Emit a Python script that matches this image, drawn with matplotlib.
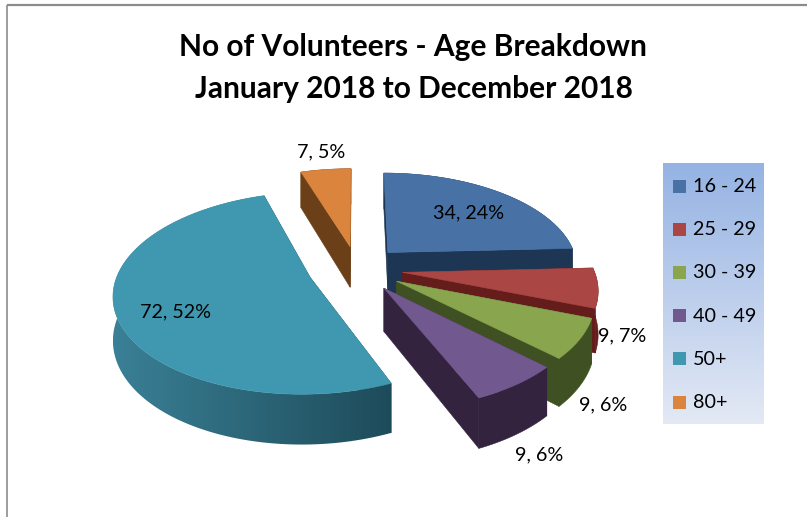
import numpy as np
import matplotlib
matplotlib.use("Agg")
import matplotlib.pyplot as plt
from matplotlib.colors import to_rgb
from matplotlib.patches import Polygon, Rectangle

# Volunteer counts by age band
categories = ["16 - 24", "25 - 29", "30 - 39", "40 - 49", "50+", "80+"]
counts = [34, 9, 9, 9, 72, 7]
percent_labels = [24, 7, 6, 6, 52, 5]
title_lines = ["No of Volunteers - Age Breakdown", "January 2018 to December 2018"]

top_colors = ["#4872a6", "#aa4644", "#89a54e", "#71588f", "#4098b0", "#db843d"]
wall_colors = ["#1d3654", "#651d1c", "#3f5122", "#33233f", "#1e4b5a", "#6b3f17"]
wall_light = {4: "#3a8096"}
explode = [0.24, 0.24, 0.24, 0.24, 0.258, 0.24]

# Projection of the pie's ground plane onto the page
CX, CY = 357.0, 268.7
RX, RY = 191.0, 96.0
PERSPECTIVE = 0.152
DEPTH = 42.0

plt.rcParams["font.family"] = ["Lato", "DejaVu Sans"]
fig = plt.figure(figsize=(8.07, 5.17), dpi=100)
ax = fig.add_axes([0, 0, 1, 1])


def project(gx, gy, lowered=False):
    w = 1 - PERSPECTIVE * gy
    sx = CX + RX * gx / w
    sy = CY + RY * gy / w
    if lowered:
        sy = sy + DEPTH / w
    return np.column_stack([sx, sy])


fractions = np.array(counts, dtype=float) / sum(counts)
edges = np.concatenate([[0], np.cumsum(fractions)]) * 2 * np.pi
mids = (edges[:-1] + edges[1:]) / 2

# Paint slices from the back of the pie to the front
for rank, i in enumerate(np.argsort(-np.cos(mids))):
    z = 2 + 0.01 * rank
    ox = explode[i] * np.sin(mids[i])
    oy = -explode[i] * np.cos(mids[i])
    theta = np.linspace(edges[i], edges[i + 1], max(12, counts[i] * 3))
    gx = ox + np.sin(theta)
    gy = oy - np.cos(theta)
    apex_top = project(np.array([ox]), np.array([oy]))
    apex_low = project(np.array([ox]), np.array([oy]), True)
    rim_top = project(gx, gy)
    rim_low = project(gx, gy, True)

    # Flat radial walls
    for end in (0, -1):
        wall = [apex_top[0], rim_top[end], rim_low[end], apex_low[0]]
        ax.add_patch(Polygon(wall, closed=True, fc=wall_colors[i], ec=wall_colors[i], lw=0.4, zorder=z))

    # Curved outer wall, shaded across the page where the slice has a lit side
    outer = np.vstack([rim_top, rim_low[::-1]])
    if i in wall_light:
        shell = Polygon(outer, closed=True, fc="none", ec="none", zorder=z)
        ax.add_patch(shell)
        light = np.array(to_rgb(wall_light[i]))
        dark = np.array(to_rgb(wall_colors[i]))
        ramp = np.linspace(0, 1, 256)[None, :, None]
        x0, y0 = outer.min(axis=0)
        x1, y1 = outer.max(axis=0)
        img = ax.imshow(light + (dark - light) * ramp, extent=(x0, x1, y1, y0), aspect="auto",
                        interpolation="bilinear", zorder=z)
        img.set_clip_path(shell)
    else:
        ax.add_patch(Polygon(outer, closed=True, fc=wall_colors[i], ec=wall_colors[i], lw=0.4, zorder=z))

    # Upper face
    face = np.vstack([apex_top, rim_top])
    ax.add_patch(Polygon(face, closed=True, fc=top_colors[i], ec=top_colors[i], lw=0.4, zorder=z + 0.005))

# Data labels
label_xy = [(469, 213), (622, 336), (603, 405), (539, 455), (176, 312), (321, 152)]
for (lx, ly), n_, pct in zip(label_xy, counts, percent_labels):
    ax.text(lx, ly, f"{n_}, {pct}%", ha="center", va="center", fontsize=14.2, color="black", zorder=5)

# Title
ax.text(413, 47, title_lines[0], ha="center", va="center", fontsize=21.5, fontweight="bold", color="black", zorder=5)
ax.text(414, 89, title_lines[1], ha="center", va="center", fontsize=21.5, fontweight="bold", color="black", zorder=5)

# Legend panel with a vertical gradient
grad_top = np.array(to_rgb("#95b3e3"))
grad_bot = np.array(to_rgb("#e3e9f5"))
ramp = np.linspace(0, 1, 128)[:, None, None]
ax.imshow(grad_top + (grad_bot - grad_top) * ramp, extent=(663, 764, 424, 163), aspect="auto", zorder=1)

legend_y = np.linspace(186, 402, len(categories))
for y, name, color in zip(legend_y, categories, top_colors):
    ax.add_patch(Rectangle((673, y - 6.5), 13, 13, fc=color, ec="none", zorder=3))
    ax.text(693, y + 0.5, name, ha="left", va="center", fontsize=14.2, color="black", zorder=5)

# Outer chart frame
ax.plot([7, 7], [517, 5], color="#8c8c8c", lw=1.2, zorder=4, solid_capstyle="butt")
ax.plot([7, 807], [5, 5], color="#8c8c8c", lw=1.6, zorder=4, solid_capstyle="butt")

ax.set_xlim(0, 807)
ax.set_ylim(517, 0)
ax.axis("off")
fig.savefig("out.png", dpi=100, facecolor="white")
